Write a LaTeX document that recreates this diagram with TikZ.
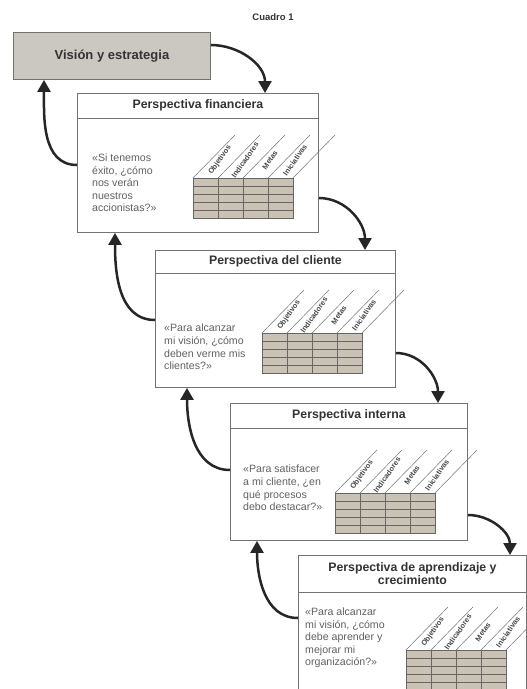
\documentclass[tikz,border=0pt]{standalone}
\usepackage{fontspec}
\setmainfont{Liberation Sans}
\usetikzlibrary{arrows.meta,calc}

\definecolor{visfill}{HTML}{CBC8C2}
\definecolor{gridfill}{HTML}{C9C2B5}

\newcommand\metricgrid[1]{%
  \begin{scope}[shift={#1}]
    \fill[gridfill] (0,0) rectangle (100,-40);
    \foreach \r in {-8,-16,-24,-32} \draw[gridline] (0,\r) -- (100,\r);
    \foreach \c in {25,50,75} \draw[gridline] (\c,0) -- (\c,-40);
    \draw[gridline] (0,0) rectangle (100,-40);
    \foreach \c in {0,25,...,100} \draw[headline] (\c,0) -- ++(42,43);
    \foreach \c/\lbl in {0/Objetivos,25/Indicadores,50/Metas,75/Iniciativas}
      \node[collabel] at (\c+27,18) {\lbl};
  \end{scope}}

\begin{document}
\begin{tikzpicture}[
  x=1pt,y=1pt,
  vision/.style={draw=black!55,line width=.9pt,fill=visfill,anchor=north west,font=\fontsize{13}{15}\selectfont\bfseries,text=black!80},
  persp/.style={draw=black!55,line width=.9pt,fill=white,anchor=north west},
  sepline/.style={draw=black!55,line width=.9pt},
  ptitle/.style={font=\fontsize{12.3}{13.5}\selectfont\bfseries,text=black!80,align=center,inner sep=0pt},
  quote/.style={font=\fontsize{10.6}{12.6}\selectfont,text=black!62,align=left,anchor=west,inner sep=0pt},
  gridline/.style={draw=black!60,line width=.6pt},
  headline/.style={draw=black!55,line width=.5pt},
  collabel/.style={font=\fontsize{7.4}{8}\selectfont\bfseries,text=black!72,rotate=55,inner sep=0pt},
  flow/.style={-{Triangle[length=12pt,width=13pt]},line width=2.5pt,draw=black!85},
  caption/.style={font=\fontsize{9.5}{10}\selectfont\bfseries,text=black!80}
]
\useasboundingbox (0,0) rectangle (527,-689);
\clip (0,0) rectangle (527,-689);

\node[caption] (cap) at (273,-17) {Cuadro 1};

\node[vision,minimum width=197pt,minimum height=47pt] (vis) at (13,-32) {Visión y estrategia};

\node[persp,minimum width=241pt,minimum height=139pt] (fin) at (77,-93) {};
\draw[sepline] ($(fin.north west)+(0,-25)$) -- ($(fin.north east)+(0,-25)$);
\node[ptitle] (fint) at ($(fin.north)+(0,-12.5)$) {Perspectiva financiera};
\node[quote] (finq) at (92,-183) {«Si tenemos\\éxito, ¿cómo\\nos verán\\nuestros\\accionistas?»};
\metricgrid{(193,-178)}

\node[persp,minimum width=240pt,minimum height=137pt] (cli) at (155,-250) {};
\draw[sepline] ($(cli.north west)+(0,-23)$) -- ($(cli.north east)+(0,-23)$);
\node[ptitle] (clit) at ($(cli.north)+(0,-11.5)$) {Perspectiva del cliente};
\node[quote] (cliq) at (164,-347) {«Para alcanzar\\mi visión, ¿cómo\\deben verme mis\\clientes?»};
\metricgrid{(262,-333)}

\node[persp,minimum width=237pt,minimum height=137pt] (int) at (230,-403) {};
\draw[sepline] ($(int.north west)+(0,-25)$) -- ($(int.north east)+(0,-25)$);
\node[ptitle] (intt) at ($(int.north)+(0,-12.5)$) {Perspectiva interna};
\node[quote] (intq) at (243,-488) {«Para satisfacer\\a mi cliente, ¿en\\qué procesos\\debo destacar?»};
\metricgrid{(335,-493)}

\node[persp,minimum width=228pt,minimum height=150pt] (apr) at (298,-555) {};
\draw[sepline] ($(apr.north west)+(0,-37)$) -- ($(apr.north east)+(0,-37)$);
\node[ptitle] (aprt) at ($(apr.north)+(0,-18.5)$) {Perspectiva de aprendizaje y\\crecimiento};
\node[quote] (aprq) at (305,-638) {«Para alcanzar\\mi visión, ¿cómo\\debe aprender y\\mejorar mi\\organización?»};
\metricgrid{(406,-650)}

\draw[flow] ($(vis.north east)+(0,-13)$) to[out=0,in=90] ($(fin.north west)+(188,0)$);
\draw[flow] ($(fin.north east)+(0,-105)$) to[out=0,in=90] ($(cli.north west)+(210,0)$);
\draw[flow] ($(cli.north east)+(0,-103)$) to[out=0,in=90] ($(int.north west)+(208,0)$);
\draw[flow] ($(int.north east)+(0,-112)$) to[out=0,in=90] ($(apr.north west)+(212,0)$);

\draw[flow] ($(fin.north west)+(0,-72)$) to[out=180,in=-90] ($(vis.south west)+(31,0)$);
\draw[flow] ($(cli.north west)+(0,-70)$) to[out=180,in=-90] ($(fin.south west)+(38,0)$);
\draw[flow] ($(int.north west)+(0,-67)$) to[out=180,in=-90] ($(cli.south west)+(32,0)$);
\draw[flow] ($(apr.north west)+(0,-63)$) to[out=180,in=-90] ($(int.south west)+(27,0)$);
\end{tikzpicture}
\end{document}
